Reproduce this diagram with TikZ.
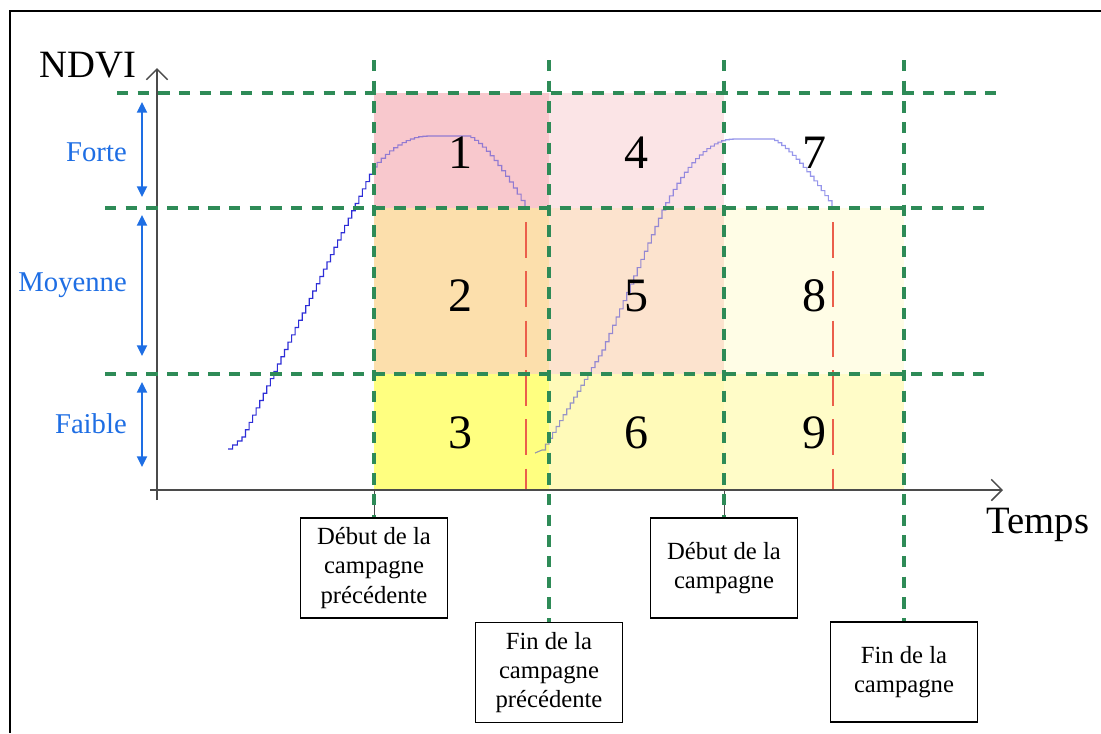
\documentclass[tikz,border=0pt]{standalone}
\usepackage{fontspec}
\setmainfont{Liberation Serif}
\usetikzlibrary{arrows.meta}
\definecolor{grn}{RGB}{46,139,87}
\definecolor{lblue}{RGB}{30,110,228}
\definecolor{cblue}{RGB}{45,45,215}
\definecolor{axisgray}{RGB}{75,75,75}
\definecolor{rdash}{RGB}{235,95,75}
\definecolor{c1}{RGB}{248,200,205}
\definecolor{c4}{RGB}{251,228,230}
\definecolor{c7}{RGB}{255,255,255}
\definecolor{c2}{RGB}{252,223,172}
\definecolor{c5}{RGB}{252,227,206}
\definecolor{c8}{RGB}{255,253,230}
\definecolor{c3}{RGB}{255,255,128}
\definecolor{c6}{RGB}{255,250,185}
\definecolor{c9}{RGB}{255,252,200}
\begin{document}
\begin{tikzpicture}[x=0.75pt,y=-0.75pt,
  gdash/.style={draw=grn,line width=2.6pt,dash pattern=on 8.5pt off 7pt},
  reddash/.style={draw=rdash,line width=0.8pt,dash pattern=on 27pt off 10pt},
  curve/.style={draw=cblue,line width=0.85pt},
  axisline/.style={draw=axisgray,line width=1.1pt,-{Straight Barb[length=8pt,width=16pt,line width=1.1pt]}},
  barrow/.style={draw=lblue,line width=1.5pt,{Triangle[length=8pt,width=7.5pt]}-{Triangle[length=8pt,width=7.5pt]}},
  level/.style={text=lblue,font=\fontsize{21.5}{24}\selectfont,anchor=base east,inner sep=0pt},
  num/.style={font=\fontsize{36}{40}\selectfont,anchor=base,inner sep=0pt},
  axlabel/.style={font=\fontsize{29}{32}\selectfont,inner sep=0pt},
  event/.style={draw=black,line width=1.2pt,fill=white,align=center,
    font=\fontsize{18.5}{22}\selectfont,minimum width=110pt,minimum height=75pt,inner sep=2pt},
  tick/.style={draw=axisgray,line width=0.6pt}
]
\useasboundingbox (0,0) rectangle (1101,733);
\fill[white] (0,0) rectangle (1101,733);
% outer frame
\draw[black,line width=1.8pt] (1101,11) -- (10,11) -- (10,733);

% cells (opaque)
\foreach \xa/\ya/\xb/\yb/\cc in {374/93/549/208/c1,549/93/724/208/c4,
   374/208/549/374/c2,549/208/724/374/c5,724/208/904/374/c8,
   374/374/549/490/c3,549/374/724/490/c6,724/374/904/490/c9}
  \fill[\cc] (\xa,\ya) rectangle (\xb,\yb);

% NDVI curves
\draw[curve] plot[const plot, domain=228:242, samples=4] (\x,{449-(\x-228)*12/14})
  -- plot[const plot, domain=242:373, samples=38] (\x,{437-(\x-242)*2.061})
  -- plot[const plot, domain=373:427, samples=14] (\x,{136+31*((427-\x)/54)*((427-\x)/54)})
  -- (467,136)
  -- plot[const plot, domain=467:525, samples=16] (\x,{136+71*pow(max((\x-467)/58,0.001),1.4)});
\draw[curve] (535,453) -- (542,450)
  -- plot[const plot, domain=542:602, samples=18] (\x,{450-(\x-542)*100/60})
  -- plot[const plot, domain=602:662, samples=18] (\x,{350-(\x-602)*140/60})
  -- plot[const plot, domain=662:733, samples=20] (\x,{139+71*((733-\x)/71)*((733-\x)/71)})
  -- (771,139)
  -- plot[const plot, domain=771:832, samples=18] (\x,{139+67*pow(max((\x-771)/61,0.001),1.35)});

% cells again, translucent, so the curve looks lighter under them
\foreach \xa/\ya/\xb/\yb/\cc in {374/93/549/208/c1,549/93/724/208/c4,724/93/904/208/c7,
   374/208/549/374/c2,549/208/724/374/c5,724/208/904/374/c8,
   374/374/549/490/c3,549/374/724/490/c6,724/374/904/490/c9}
  \fill[\cc,fill opacity=0.5] (\xa,\ya) rectangle (\xb,\yb);

% red dashed lines
\draw[reddash] (526,222) -- (526,490);
\draw[reddash] (833,222) -- (833,490);

% axes
\draw[axisline] (157,500) -- (157,68);
\draw[axisline] (150,490) -- (1003,490);
\node[axlabel] (ndvi) at (88,65) {NDVI};
\node[axlabel,anchor=base] (temps) at (1038,533) {Temps};

% level arrows and labels
\draw[barrow] (142,102) -- (142,197);
\draw[barrow] (142,215) -- (142,356);
\draw[barrow] (142,382) -- (142,467);
\node[level] (forte) at (127,161) {Forte};
\node[level] (moy) at (127,291) {Moyenne};
\node[level] (faible) at (127,433) {Faible};

% numbers
\node[num] (n1) at (460,168) {1};
\node[num] (n4) at (636,168) {4};
\node[num] (n7) at (814,168) {7};
\node[num] (n2) at (460,311) {2};
\node[num] (n5) at (636,311) {5};
\node[num] (n8) at (814,311) {8};
\node[num] (n3) at (460,448) {3};
\node[num] (n6) at (636,448) {6};
\node[num] (n9) at (814,448) {9};

% event boxes
\node[event] (b1) at (374,568) {Début de la\\campagne\\précédente};
\node[event] (b2) at (549,672.5) {Fin de la\\campagne\\précédente};
\node[event] (b3) at (724,568) {Début de la\\campagne};
\node[event] (b4) at (904,672) {Fin de la\\campagne};

\coordinate (a1) at (374,490);
\coordinate (a3) at (724,490);
\draw[tick] (a1) -- (b1.north);
\draw[tick] (a3) -- (b3.north);

% green grid
\coordinate (t1) at (374,60);
\coordinate (t2) at (549,60);
\coordinate (t3) at (724,60);
\coordinate (t4) at (904,60);
\draw[gdash] (117,93) -- (997,93);
\draw[gdash] (105,208) -- (985,208);
\draw[gdash] (105,374) -- (985,374);
\draw[gdash] (t1) -- (b1.north);
\draw[gdash] (t2) -- (b2.north);
\draw[gdash] (t3) -- (b3.north);
\draw[gdash] (t4) -- (b4.north);
\end{tikzpicture}
\end{document}
